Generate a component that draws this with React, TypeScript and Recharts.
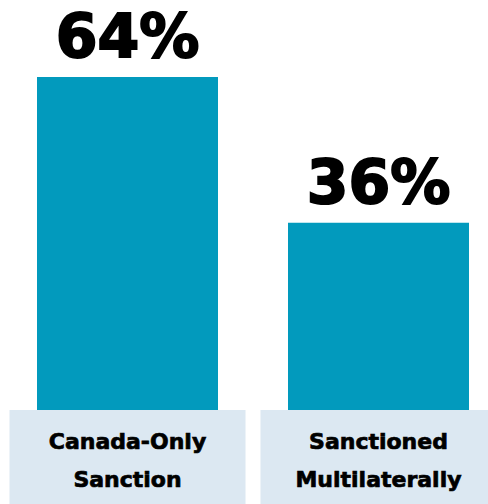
import { BarChart, Bar, XAxis, YAxis, LabelList } from 'recharts';

const categories = ['Canada-Only Sanction', 'Sanctioned Multilaterally'];
const categoryLines = [
    ['Canada-Only', 'Sanction'],
    ['Sanctioned', 'Multilaterally'],
];
const shares = [64, 36];

const data = categories.map((name, i) => ({ name, share: shares[i] }));

const BAR_COLOR = '#029abd';
const BOX_COLOR = '#dce8f2';
const FONT = '"DejaVu Sans", sans-serif';

function CategoryTick(props: any) {
    const { x, y, index } = props;
    const lines = categoryLines[index] || [];
    return (
        <g>
            <rect x={x - 118} y={y} width={236} height={94} fill={BOX_COLOR} />
            {lines.map((line, i) => (
                <text
                    key={line}
                    x={x}
                    y={y + 39 + i * 38}
                    textAnchor="middle"
                    fontFamily={FONT}
                    fontWeight="bold"
                    fontSize={22}
                    fill="#000"
                    stroke="#000"
                    strokeWidth={0.7}
                >
                    {line}
                </text>
            ))}
        </g>
    );
}

export default function App() {
    return (
        <div style={{ position: 'absolute', left: 0, top: 0, width: 488, height: 504, overflow: 'hidden', background: '#fff' }}>
            <BarChart
                width={506}
                height={504}
                data={data}
                margin={{ top: 77, right: 2, bottom: 0, left: 2 }}
                barCategoryGap={35}
            >
                <XAxis
                    dataKey="name"
                    axisLine={false}
                    tickLine={false}
                    tickSize={0}
                    tickMargin={0}
                    height={94}
                    interval={0}
                    tick={<CategoryTick />}
                />
                <YAxis hide domain={[0, 64]} />
                <Bar dataKey="share" fill={BAR_COLOR} barSize={181} isAnimationActive={false}>
                    <LabelList
                        dataKey="share"
                        position="top"
                        offset={20}
                        formatter={(v: any) => `${v}%`}
                        style={{ fontFamily: FONT, fontWeight: 'bold', fontSize: 60, fill: '#000', stroke: '#000', strokeWidth: 2 }}
                    />
                </Bar>
            </BarChart>
        </div>
    );
}
